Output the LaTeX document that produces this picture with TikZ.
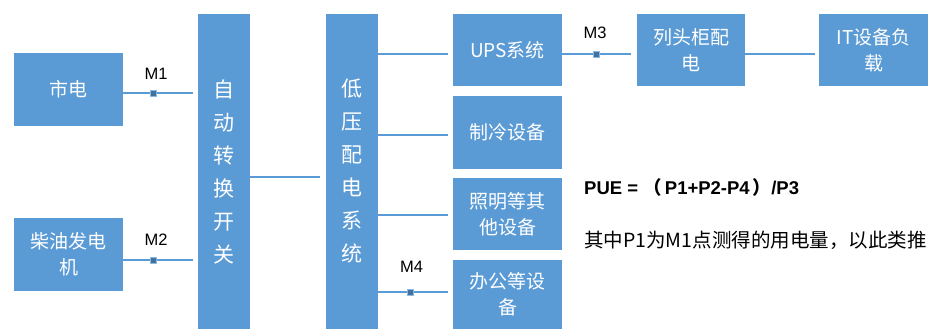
\documentclass[tikz,border=0pt]{standalone}
\usepackage{fontspec}
\setmainfont{Liberation Sans}
\newfontfamily\cjk{Noto Sans CJK SC}
\definecolor{boxblue}{HTML}{5B9BD5}
\definecolor{mark}{HTML}{41719C}
\begin{document}
\begin{tikzpicture}[x=1pt,y=-1pt,
  blk/.style={fill=boxblue,draw=none,text=white,font=\cjk\fontsize{19}{26}\selectfont,align=center,inner sep=0pt},
  wide/.style={blk,minimum width=109pt,minimum height=72pt},
  tall/.style={blk,minimum width=52pt,minimum height=315pt,font=\cjk\fontsize{21}{33}\selectfont},
  wire/.style={draw=boxblue,line width=1.2pt},
  meter/.style={fill=mark,draw=boxblue!70!white,line width=0.4pt,minimum size=6pt,inner sep=0pt},
  mlabel/.style={font=\fontsize{16.5}{18}\selectfont,text=black}
]
\useasboundingbox (0,0) rectangle (942,329);
\node[wide,minimum height=73pt] (sd) at (68.5,89.5) {市电};
\node[wide,minimum height=73pt] (cy) at (68.5,254.5) {柴油发电\\机};
\node[tall] (ats) at (224,171.5) {自\\动\\转\\换\\开\\关};
\node[tall] (lv) at (352,171.5) {低\\压\\配\\电\\系\\统};
\node[wide] (ups) at (507.5,50) {UPS系统};
\node[wide,minimum height=73pt] (zl) at (507.5,132.5) {制冷设备};
\node[wide] (zm) at (507.5,214) {照明等其\\他设备};
\node[wide,minimum height=69pt] (bg) at (507.5,294.5) {办公等设\\备};
\node[wide,minimum width=108pt] (lt) at (691,50) {列头柜配\\电};
\node[wide] (it) at (873.5,50) {IT设备负\\载};
% connectors
\coordinate (m1) at (153,93);
\coordinate (m2) at (153,260);
\coordinate (m3) at (596,54);
\coordinate (m4) at (410,292);
\draw[wire] (sd.east |- m1) -- (193,93);
\draw[wire] (cy.east |- m2) -- (193,260);
\draw[wire] (ats.east |- 0,177) -- (320,177);
\draw[wire] (lv.east |- ups.west) ++(0,4) -- (448,54);
\draw[wire] (lv.east |- zl.west) ++(0,2.5) -- (448,135);
\draw[wire] (lv.east |- zm.west) ++(0,1) -- (448,215);
\draw[wire] (lv.east |- m4) -- (448,292);
\draw[wire] (ups.east |- m3) -- (631,54);
\draw[wire] (lt.east |- m3) -- (815,54);
\node[meter] at (m1) {};
\node[meter] at (m2) {};
\node[meter] at (m3) {};
\node[meter] at (m4) {};
\node[mlabel] (l1) at (156,73.5) {M1};
\node[mlabel] (l2) at (156,240) {M2};
\node[mlabel] (l3) at (595,33) {M3};
\node[mlabel] (l4) at (411.5,267) {M4};
\node[anchor=west,font=\bfseries\fontsize{18.5}{20}\selectfont,inner sep=0pt] (pue) at (584,187) {PUE = {\cjk （}\,P1+P2-P4\,{\cjk ）}/P3};
\node[anchor=west,font=\cjk\fontsize{19.5}{22}\selectfont,inner sep=0pt] (note) at (584,240) {其中P1为M1点测得的用电量，以此类推};
\end{tikzpicture}
\end{document}
